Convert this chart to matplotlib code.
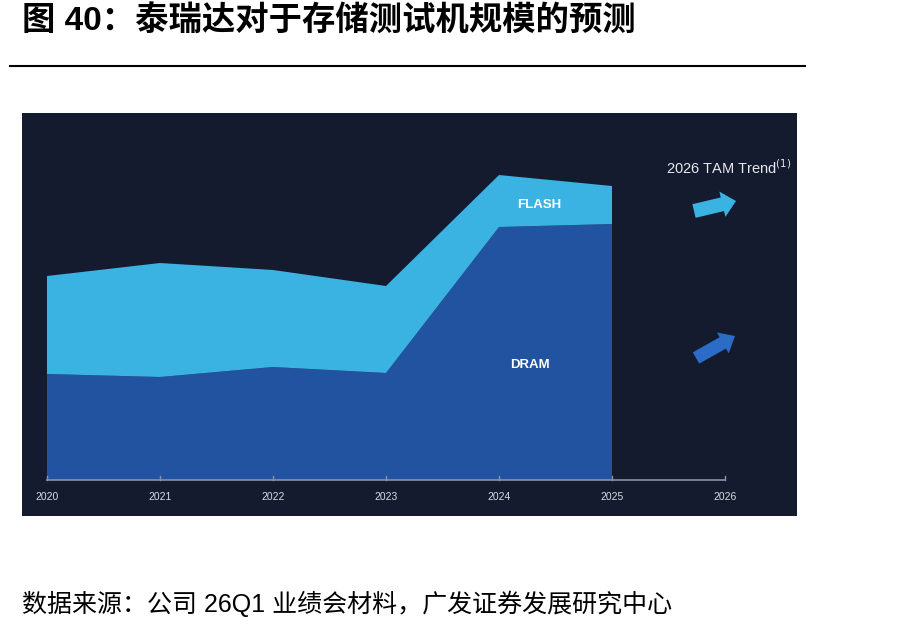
import matplotlib
matplotlib.use("Agg")
import matplotlib.pyplot as plt
import numpy as np
from matplotlib.patches import Polygon

plt.rcParams['font.family'] = ['Liberation Sans', 'Noto Sans CJK SC', 'DejaVu Sans']

years = [2020, 2021, 2022, 2023, 2024, 2025]
axis_years = [2020, 2021, 2022, 2023, 2024, 2025, 2026]
dram = [106, 103, 113, 107, 253, 256]
flash = [98, 114, 97, 87, 52, 38]

BG = '#141b2e'
C_FLASH = '#3bb3e2'
C_DRAM = '#2153a0'
C_ARROW2 = '#2a6cc6'

W, H = 907, 632
fig = plt.figure(figsize=(W / 100, H / 100), dpi=100)


def arrow_poly(tail, tip, body=10, head=22, head_len=13):
    # arrow outline in image pixels (y down), returned in figure fraction
    t, p = np.array(tail, float), np.array(tip, float)
    d = p - t
    L = np.hypot(*d)
    u = d / L
    n = np.array([-u[1], u[0]])
    b = p - u * head_len
    pts = [t + n * body / 2, b + n * body / 2, b + n * head / 2, p,
           b - n * head / 2, b - n * body / 2, t - n * body / 2]
    return [(x / W, 1 - y / H) for x, y in pts]


# title + rule
fig.text(22 / W, 1 - 22 / H, '图 40：泰瑞达对于存储测试机规模的预测',
         fontsize=24, fontweight='bold', va='center', ha='left', color='black')
fig.add_artist(plt.Line2D([10 / W, 805 / W], [1 - 66 / H, 1 - 66 / H],
                          color='black', lw=1.5))

ax = fig.add_axes([22 / W, 1 - 516 / H, 775 / W, 403 / H])
ax.set_facecolor(BG)
for s in ax.spines.values():
    s.set_visible(False)
ax.set_xticks([])
ax.set_yticks([])

x0, px = 2020, 113.0
ax.set_xlim(x0 - 25 / px, x0 + 750 / px)
ax.set_ylim(-36, 367)

ax.stackplot(years, dram, flash, colors=[C_DRAM, C_FLASH], lw=0)

# axis line and ticks
ax.plot([axis_years[0], axis_years[-1]], [0, 0], color='#8a93a6', lw=1.2)
for yr in axis_years:
    ax.plot([yr, yr], [0, 4], color='#8a93a6', lw=1)
    ax.text(yr, -17, str(yr), color='#d8dce4', fontsize=7.5, ha='center',
            va='center')

ax.text(2024.36, 275, 'FLASH', color='white', fontsize=9.5, fontweight='bold',
        ha='center', va='center')
ax.text(2024.27, 115, 'DRAM', color='white', fontsize=9.5, fontweight='bold',
        ha='center', va='center')

ax.text(2026.03, 312, '2026 TAM Trend$^{(1)}$', color='#e6e8ee', fontsize=10.5,
        ha='center', va='center')

fig.add_artist(Polygon(arrow_poly((694, 211), (736, 201), body=14, head=26,
                                  head_len=14),
                       closed=True, transform=fig.transFigure, color=C_FLASH, lw=0))
fig.add_artist(Polygon(arrow_poly((696, 358), (735, 336), body=13, head=24,
                                  head_len=14),
                       closed=True, transform=fig.transFigure, color=C_ARROW2, lw=0))

fig.text(22 / W, 1 - 604 / H, '数据来源：公司 26Q1 业绩会材料，广发证券发展研究中心',
         fontsize=18, va='center', ha='left', color='black')

fig.savefig('out.png', dpi=100, facecolor='white')
